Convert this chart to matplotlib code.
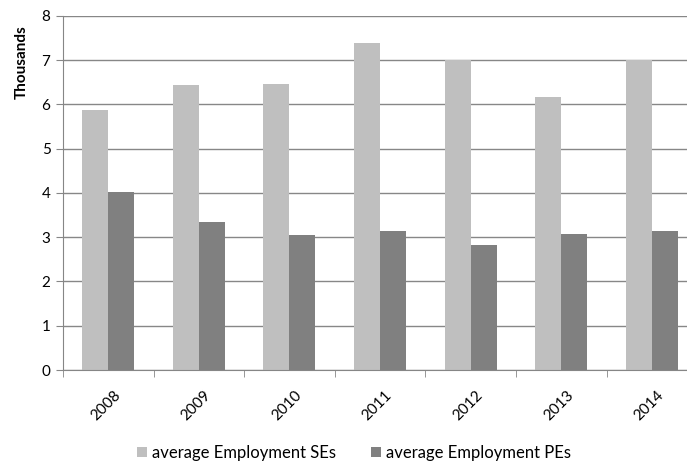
import numpy as np
from matplotlib import pyplot as plt
from matplotlib import transforms

years = ['2008', '2009', '2010', '2011', '2012', '2013', '2014']
se_values = [5.87, 6.43, 6.45, 7.39, 7.01, 6.17, 7.00]
pe_values = [4.01, 3.35, 3.06, 3.13, 2.82, 3.07, 3.13]
y_ticks = [0, 1, 2, 3, 4, 5, 6, 7, 8]

plt.rcParams['font.family'] = ['Lato', 'DejaVu Sans']

fig = plt.figure(figsize=(6.87, 4.66), dpi=100)
ax = fig.add_axes([0.0917, 0.206, 0.923, 0.760])

x = np.arange(len(years))
width = 0.287
ax.bar(x - width / 2, se_values, width, color='#bfbfbf', label='average Employment SEs', zorder=3)
ax.bar(x + width / 2, pe_values, width, color='#808080', label='average Employment PEs', zorder=3)

ax.set_xlim(-0.5, len(years) - 0.5)
ax.set_ylim(0, 8)
ax.set_yticks(y_ticks)
ax.set_xticks(x)
ax.set_xticklabels(years, rotation=45, ha='right', rotation_mode='anchor')
ax.set_xticks(np.arange(-0.5, len(years)), minor=True)
ax.tick_params(axis='x', which='major', length=0, pad=13, labelsize=11)
ax.tick_params(axis='x', which='minor', length=5, color='#868686', direction='out')
ax.tick_params(axis='y', length=5, color='#868686', labelsize=11, pad=4)

# nudge the rotated year labels a little to the right, like the original
shift = transforms.ScaledTranslation(5 / 100, 0, fig.dpi_scale_trans)
for lbl in ax.get_xticklabels():
    lbl.set_transform(lbl.get_transform() + shift)

ax.grid(axis='y', color='#878787', linewidth=1, zorder=0)
for side in ['top', 'right']:
    ax.spines[side].set_visible(False)
for side in ['left', 'bottom']:
    ax.spines[side].set_color('#868686')
    ax.spines[side].set_zorder(4)

ax.set_ylabel('Thousands', fontweight='bold', fontsize=11)
ax.yaxis.set_label_coords(-0.054, 0.87)

fig.legend(loc='center', bbox_to_anchor=(0.516, 0.028), ncol=2, frameon=False,
           fontsize=12, handlelength=0.6, handleheight=0.6, handletextpad=0.3,
           columnspacing=2.1)

fig.savefig('out.png', dpi=100)
